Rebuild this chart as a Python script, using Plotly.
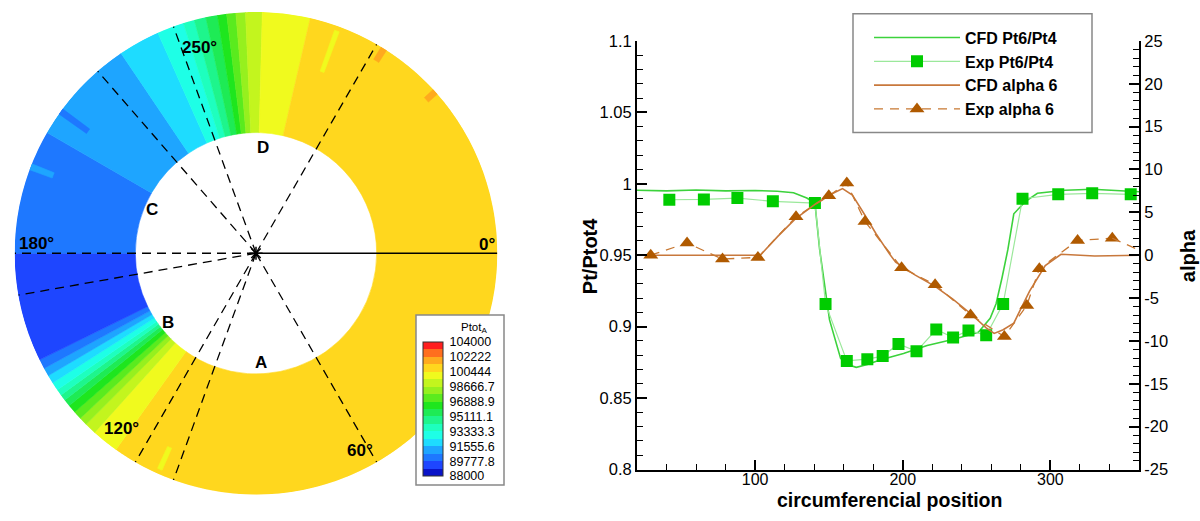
import plotly.graph_objects as go

W, H = 1200, 521
FONT = "Liberation Sans, Arial, sans-serif"


def px(x):
    return x / W


def py(y):
    return 1 - y / H


# ---------------- Left panel: Ptot_A contour on the annulus ----------------
LEVEL_MIN, LEVEL_MAX = 88000, 104000
BAND_COLORS = ["#0A14C8", "#1E46FF", "#1E78FF", "#1EA5FF", "#1EDCFF", "#1EFFE6",
               "#1EFFBE", "#1EF58C", "#1EEB55", "#1EE61E", "#5AEB1E", "#96F01E",
               "#C3F51E", "#F0FA1E", "#FFD71E", "#FFAA1E", "#FF6E1E", "#FF1E1E"]
CBAR_TICKS = [88000, 89777.8, 91555.6, 93333.3, 95111.1, 96888.9, 98666.7, 100444, 102222, 104000]
CBAR_LABELS = ["88000", "89777.8", "91555.6", "93333.3", "95111.1", "96888.9",
               "98666.7", "100444", "102222", "104000"]

# Ptot value of each angular sector (clockwise from 0 deg)
SECTOR_PTOT = [100889, 100000, 99111, 98222, 97333, 96444, 95556, 94667, 93778, 92889,
               92000, 91111, 90222, 89333, 90222, 91111, 92000, 92889, 93778, 94667,
               95556, 96444, 97333, 98222, 99111, 100000, 100889]
# sector boundary angles (deg)
SECTOR_BOUNDS = [125.5, 132, 134.8, 136.8, 138.8, 140.8, 142.5, 144, 145.5, 147.5, 149.5, 151.5,
                 153.8, 180, 210, 236, 246, 252.5, 255.2, 258, 260.8, 263, 265.2, 267.5, 271.5, 283]
RING_INNER, RING_OUTER = 0.5, 1.0

# small local patches of the field
PATCH_THETA = [114, 201, 216, 290, 302, 318]
PATCH_WIDTH = [1.2, 1.5, 1.5, 1.2, 1.5, 1.5]
PATCH_R0 = [0.88, 0.90, 0.86, 0.80, 0.94, 0.95]
PATCH_R1 = [0.98, 1.0, 1.0, 0.98, 1.0, 1.0]
PATCH_PTOT = [100000, 91111, 90222, 100000, 101778, 101778]

PROBE_ANGLES = [60, 110, 120, 170, 180, 229, 250, 300]
REF_ANGLE = 0

# ---------------- Right panel data ----------------
CFD_PT_POS = [20, 40, 60, 80, 100, 115, 126, 135, 140.5, 143.7, 150.4, 157.9, 162.5, 168.5, 176,
              184.5, 200.5, 216.5, 235.2, 251.2, 259.2, 263.2, 267.2, 271.2, 275.2, 283.2, 291.2,
              309.9, 328.5, 345, 360]
CFD_PT = [0.9955, 0.9950, 0.9956, 0.9950, 0.9953, 0.9948, 0.9937, 0.9900, 0.9865, 0.9540, 0.9047,
          0.8778, 0.8735, 0.8715, 0.8735, 0.8767, 0.8812, 0.8868, 0.8913, 0.8960, 0.9058, 0.9160,
          0.9340, 0.9540, 0.9790, 0.9877, 0.9933, 0.9955, 0.9962, 0.9950, 0.9944]

EXP_PT_POS = [41.9, 65.3, 88.0, 112.0, 140.5, 147.7, 162.1, 176.0, 186.4, 197.1, 209.3, 222.7,
              234.1, 244.5, 256.5, 268.0, 281.1, 305.3, 328.3, 354.4]
EXP_PT = [0.9888, 0.9890, 0.9900, 0.9877, 0.9865, 0.9159, 0.8760, 0.8772, 0.8794, 0.8879, 0.8827,
          0.8980, 0.8924, 0.8973, 0.8940, 0.9159, 0.9895, 0.9926, 0.9933, 0.9926]

CFD_ALPHA_POS = [20, 60, 103.5, 115.2, 127.2, 141.9, 152.5, 159.2, 165.9, 173.9, 181.9, 191.2,
                 195.2, 208.5, 221.9, 233.9, 245.9, 256.5, 261.9, 268, 275.2, 285.9, 296.5, 307.2,
                 330, 360]
CFD_ALPHA = [0.0, 0.0, 0.0, 2.16, 4.23, 6.09, 7.2, 7.77, 7.0, 4.8, 2.5, 0.1, -0.82, -2.32, -3.63,
             -5.12, -6.8, -8.48, -9.12, -8.7, -7.92, -4.19, -1.2, 0.11, -0.1, 0.0]

EXP_ALPHA_POS = [29.3, 53.9, 77.9, 101.9, 127.7, 149.9, 162.1, 174.4, 199.2, 221.9, 245.9, 268.8,
                 284.0, 292.5, 318.4, 341.9]
EXP_ALPHA = [0.0, 1.42, -0.45, -0.26, 4.48, 6.92, 8.41, 3.92, -1.46, -3.44, -6.98, -9.49, -5.86,
             -1.57, 1.72, 1.98]
EXP_ALPHA_TAIL_POS = 360
EXP_ALPHA_TAIL = 0.6

Y_TICKS = [0.8, 0.85, 0.9, 0.95, 1.0, 1.05, 1.1]
Y_LABELS = ["0.8", "0.85", "0.9", "0.95", "1", "1.05", "1.1"]
Y2_TICKS = [-25, -20, -15, -10, -5, 0, 5, 10, 15, 20, 25]
Y2_LABELS = ["-25", "-20", "-15", "-10", "-5", "0", "5", "10", "15", "20", "25"]
X_TICKS = [100, 200, 300]
X_LABELS = ["100", "200", "300"]

# ---------------- build annulus sectors ----------------
n = len(BAND_COLORS)
colorscale = []
for i, c in enumerate(BAND_COLORS):
    colorscale.append([i / n, c])
    colorscale.append([(i + 1) / n, c])

th, wd, bs, rl, vals = [], [], [], [], []
edges = [0] + SECTOR_BOUNDS + [360]
for i, p in enumerate(SECTOR_PTOT):
    a0, a1 = edges[i], edges[i + 1]
    th.append((a0 + a1) / 2)
    wd.append(a1 - a0)
    bs.append(RING_INNER)
    rl.append(RING_OUTER - RING_INNER)
    vals.append(p)
for t, w, r0, r1, p in zip(PATCH_THETA, PATCH_WIDTH, PATCH_R0, PATCH_R1, PATCH_PTOT):
    th.append(t)
    wd.append(w)
    bs.append(r0)
    rl.append(r1 - r0)
    vals.append(p)

fig = go.Figure()

fig.add_trace(go.Barpolar(
    theta=th, width=wd, base=bs, r=rl, subplot="polar", showlegend=False, hoverinfo="skip",
    marker=dict(
        color=vals, colorscale=colorscale, cmin=LEVEL_MIN, cmax=LEVEL_MAX,
        line=dict(width=0.6, color=vals, colorscale=colorscale, cmin=LEVEL_MIN, cmax=LEVEL_MAX),
        showscale=True,
        colorbar=dict(
            x=px(423), xanchor="left", y=py(345), yanchor="top",
            len=134, lenmode="pixels", thickness=20, thicknessmode="pixels",
            xpad=0, ypad=0, outlinewidth=1, outlinecolor="#333333",
            tickmode="array", tickvals=CBAR_TICKS, ticktext=CBAR_LABELS,
            ticks="outside", ticklen=4, tickcolor="rgba(0,0,0,0)",
            tickfont=dict(family=FONT, size=12.5, color="black"),
            bgcolor="rgba(0,0,0,0)", borderwidth=0,
        ),
    ),
))

r_probe, t_probe = [], []
for a in PROBE_ANGLES:
    r_probe += [0, 1, None]
    t_probe += [a, a, None]
fig.add_trace(go.Scatterpolar(r=r_probe, theta=t_probe, mode="lines", subplot="polar",
                              line=dict(color="black", width=1.3, dash="9px,6px"),
                              showlegend=False, hoverinfo="skip"))
fig.add_trace(go.Scatterpolar(r=[0, 1], theta=[REF_ANGLE, REF_ANGLE], mode="lines", subplot="polar",
                              line=dict(color="black", width=1.6), showlegend=False, hoverinfo="skip"))
fig.add_trace(go.Scatterpolar(r=[0], theta=[REF_ANGLE], mode="markers", subplot="polar",
                              marker=dict(symbol="asterisk-open", size=11, color="black",
                                          line=dict(width=1.5, color="black")),
                              showlegend=False, hoverinfo="skip"))

# ---------------- right panel traces ----------------
fig.add_trace(go.Scatter(x=CFD_PT_POS, y=CFD_PT, name="CFD Pt6/Pt4", mode="lines",
                         line=dict(color="#3CD23C", width=1.6), xaxis="x", yaxis="y"))
fig.add_trace(go.Scatter(x=EXP_PT_POS, y=EXP_PT, name="Exp Pt6/Pt4", mode="lines+markers",
                         line=dict(color="#9BE89B", width=1.2),
                         marker=dict(symbol="square", size=12, color="#00CC00"),
                         xaxis="x", yaxis="y"))
fig.add_trace(go.Scatter(x=CFD_ALPHA_POS, y=CFD_ALPHA, name="CFD alpha 6", mode="lines",
                         line=dict(color="#C8783C", width=1.6), xaxis="x", yaxis="y2"))
fig.add_trace(go.Scatter(x=EXP_ALPHA_POS, y=EXP_ALPHA, name="Exp alpha 6", mode="lines+markers",
                         line=dict(color="#C87832", width=1.3, dash="9px,7px"),
                         marker=dict(symbol="triangle-up", size=13, color="#B05A00"),
                         xaxis="x", yaxis="y2"))
fig.add_trace(go.Scatter(x=[EXP_ALPHA_POS[-1], EXP_ALPHA_TAIL_POS], y=[EXP_ALPHA[-1], EXP_ALPHA_TAIL],
                         mode="lines", line=dict(color="#C87832", width=1.3, dash="9px,7px"),
                         xaxis="x", yaxis="y2", showlegend=False, hoverinfo="skip"))

axis_common = dict(showline=True, linecolor="black", linewidth=2, ticks="inside", ticklen=10,
                   tickwidth=2, tickcolor="black", showgrid=False, zeroline=False,
                   tickfont=dict(family=FONT, size=16.5, color="black"))


def label(text, x, y, size, bold=True, angle=0):
    f = dict(family=FONT, size=size, color="black")
    if bold:
        f["weight"] = "bold"
    return dict(text=text, x=px(x), y=py(y), xref="paper", yref="paper", showarrow=False,
                xanchor="center", yanchor="middle", textangle=angle, font=f)


annotations = []
for text, x, y in [("0°", 487, 244), ("180°", 36, 243), ("250°", 199, 40), ("120°", 121, 435),
                   ("60°", 360, 457), ("A", 261, 366), ("B", 168, 325), ("C", 152, 208),
                   ("D", 263, 143)]:
    annotations.append(label(text, x, y, 17))
annotations.append(label("Ptot<sub>A</sub>", 474, 330, 11.5, bold=False))
annotations.append(label("Pt/Ptot4", 590, 256, 20, angle=-90))
annotations.append(label("alpha", 1188, 256, 20, angle=-90))
annotations.append(dict(text="circumferencial position", x=px(889), y=0, xref="paper", yref="paper",
                        showarrow=False, xanchor="center", yanchor="bottom", borderpad=0,
                        font=dict(family=FONT, size=19.5, color="black", weight="bold")))

x_axis_style = dict(axis_common)
x_axis_style["tickfont"] = dict(family=FONT, size=16, color="black")

fig.update_layout(
    width=W, height=H, margin=dict(l=0, r=0, t=0, b=0),
    paper_bgcolor="white", plot_bgcolor="white",
    font=dict(family=FONT, color="black"),
    polar=dict(
        domain=dict(x=[px(6), px(506)], y=[py(503), py(3)]),
        bgcolor="rgba(0,0,0,0)", barmode="overlay", bargap=0,
        radialaxis=dict(range=[0, 1], visible=False, showgrid=False),
        angularaxis=dict(direction="clockwise", rotation=0, visible=False, showgrid=False),
    ),
    xaxis=dict(domain=[px(637), px(1139)], range=[20, 360], anchor="y",
               tickmode="array", tickvals=X_TICKS, ticktext=X_LABELS, ticklabelstandoff=-6,
               minor=dict(ticks="inside", ticklen=6, tickwidth=1, tickcolor="black", dtick=20, tick0=0),
               **x_axis_style),
    yaxis=dict(domain=[py(477), py(33)], range=[0.8, 1.1], anchor="x",
               tickmode="array", tickvals=Y_TICKS, ticktext=Y_LABELS,
               minor=dict(ticks="inside", ticklen=6, tickwidth=1, tickcolor="black", dtick=0.01, tick0=0.8),
               **axis_common),
    yaxis2=dict(range=[-25, 25], overlaying="y", side="right", anchor="x",
                tickmode="array", tickvals=Y2_TICKS, ticktext=Y2_LABELS,
                minor=dict(ticks="inside", ticklen=6, tickwidth=1, tickcolor="black", dtick=1, tick0=0),
                **axis_common),
    legend=dict(x=px(869), y=py(12), xanchor="left", yanchor="top", bgcolor="rgba(0,0,0,0)",
                borderwidth=0, itemwidth=86, tracegroupgap=0,
                font=dict(family=FONT, size=16, color="black", weight="bold")),
    shapes=[
        dict(type="rect", xref="paper", yref="paper", x0=px(416), x1=px(504), y0=py(493), y1=py(317),
             line=dict(color="#888888", width=1.5), fillcolor="white", layer="above"),
        dict(type="rect", xref="paper", yref="paper", x0=px(853), x1=px(1092), y0=py(128), y1=py(5),
             line=dict(color="#888888", width=1.5), fillcolor="white", layer="below"),
    ],
    annotations=annotations,
)

fig.write_html("out.html")
